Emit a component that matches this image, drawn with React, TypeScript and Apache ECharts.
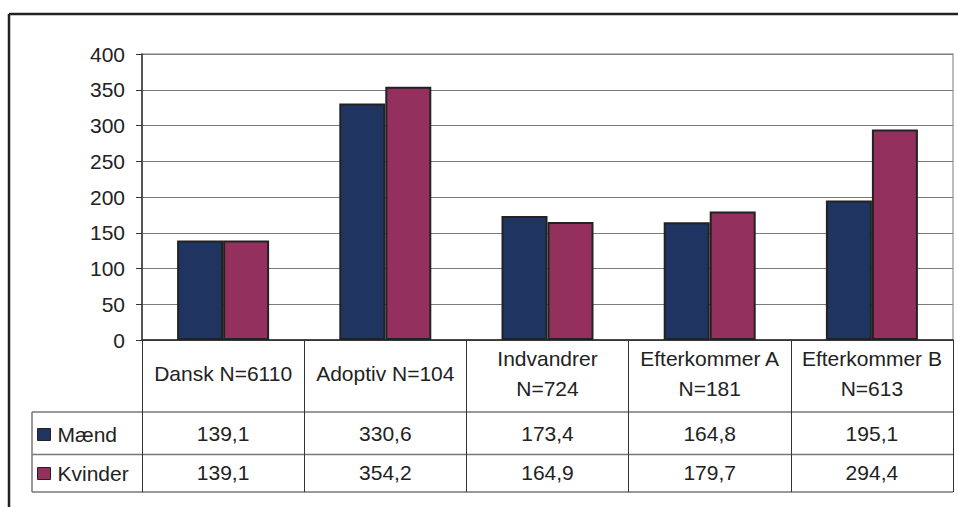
import React, { useEffect, useRef } from "react";
import * as echarts from "echarts";

const categories = [
  "Dansk N=6110",
  "Adoptiv N=104",
  "Indvandrer\nN=724",
  "Efterkommer A\nN=181",
  "Efterkommer B\nN=613",
];
const seriesNames = ["Mænd", "Kvinder"];
const maend = [139.1, 330.6, 173.4, 164.8, 195.1];
const kvinder = [139.1, 354.2, 164.9, 179.7, 294.4];
const yTicks = { min: 0, max: 400, interval: 50 };

const fmt = (v: number) => v.toFixed(1).replace(".", ",");

const FONT = "'Liberation Sans', Arial, sans-serif";
const FS = 21;
const TXT = "#222";
const NAVY = "#1f3461";
const PLUM = "#93305e";

export default function App() {
  const ref = useRef<HTMLDivElement>(null);
  useEffect(() => {
    if (!ref.current) return;
    const chart = echarts.init(ref.current, null, { renderer: "svg" });
    const lineGray = "#777";
    const legendBase = {
      left: 37,
      padding: 0,
      itemWidth: 13,
      itemHeight: 12,
      icon: "rect",
      itemStyle: { borderColor: "#222", borderWidth: 1 },
      textStyle: { fontSize: FS, color: TXT, fontFamily: FONT, padding: [0, 0, 0, 2] },
    };
    chart.setOption({
      animation: false,
      backgroundColor: "#fff",
      textStyle: { fontFamily: FONT, color: TXT },
      grid: {
        left: 142,
        top: 54,
        right: 5,
        bottom: 167,
        show: true,
        borderColor: "#a8a8a8",
        borderWidth: 1.5,
      },
      legend: [
        { ...legendBase, data: [seriesNames[0]], top: 424 },
        { ...legendBase, data: [seriesNames[1]], top: 463 },
      ],
      xAxis: [
        {
          type: "category",
          data: categories,
          position: "bottom",
          axisLine: { show: true, lineStyle: { color: "#222", width: 1.5 } },
          axisTick: {
            show: true,
            interval: 0,
            length: 152,
            lineStyle: { color: "#333", width: 1 },
          },
          axisLabel: {
            interval: 0,
            margin: 33,
            verticalAlign: "middle",
            fontSize: FS,
            lineHeight: 30,
            color: TXT,
            fontFamily: FONT,
          },
        },
        {
          type: "category",
          data: categories,
          position: "bottom",
          offset: 93,
          axisLine: { show: false },
          axisTick: { show: false },
          axisLabel: {
            interval: 0,
            margin: 0,
            verticalAlign: "middle",
            fontSize: FS,
            color: TXT,
            fontFamily: FONT,
            formatter: (_v: string, i: number) => fmt(maend[i]),
          },
        },
        {
          type: "category",
          data: categories,
          position: "bottom",
          offset: 132,
          axisLine: { show: false },
          axisTick: { show: false },
          axisLabel: {
            interval: 0,
            margin: 0,
            verticalAlign: "middle",
            fontSize: FS,
            color: TXT,
            fontFamily: FONT,
            formatter: (_v: string, i: number) => fmt(kvinder[i]),
          },
        },
      ],
      yAxis: {
        type: "value",
        min: yTicks.min,
        max: yTicks.max,
        interval: yTicks.interval,
        axisLine: { show: true, lineStyle: { color: "#333", width: 1.5 } },
        axisTick: { show: true, length: 6, lineStyle: { color: "#333" } },
        axisLabel: { margin: 17, fontSize: FS, color: TXT, fontFamily: FONT },
        splitLine: { show: true, lineStyle: { color: "#7a7a7a", width: 1 } },
      },
      series: [
        {
          name: seriesNames[0],
          type: "bar",
          data: maend,
          barWidth: 46,
          barGap: "0%",
          itemStyle: { color: NAVY, borderColor: "#222", borderWidth: 2 },
        },
        {
          name: seriesNames[1],
          type: "bar",
          data: kvinder,
          barWidth: 46,
          barGap: "0%",
          itemStyle: { color: PLUM, borderColor: "#222", borderWidth: 2 },
        },
      ],
      graphic: [
        { type: "line", shape: { x1: 9, y1: 14, x2: 958, y2: 14 }, style: { stroke: "#222", lineWidth: 2.5 } },
        { type: "line", shape: { x1: 9, y1: 14, x2: 9, y2: 507 }, style: { stroke: "#222", lineWidth: 2.5 } },
        { type: "line", shape: { x1: 32, y1: 412, x2: 953, y2: 412 }, style: { stroke: lineGray, lineWidth: 1.5 } },
        { type: "line", shape: { x1: 32, y1: 454.5, x2: 953, y2: 454.5 }, style: { stroke: lineGray, lineWidth: 1.5 } },
        { type: "line", shape: { x1: 32, y1: 492, x2: 953, y2: 492 }, style: { stroke: lineGray, lineWidth: 1.5 } },
        { type: "line", shape: { x1: 32, y1: 412, x2: 32, y2: 492 }, style: { stroke: lineGray, lineWidth: 1.5 } },
      ],
    });
    return () => chart.dispose();
  }, []);
  return (
    <div
      ref={ref}
      style={{ position: "fixed", left: 0, top: 0, width: 958, height: 507, background: "#fff" }}
    />
  );
}
